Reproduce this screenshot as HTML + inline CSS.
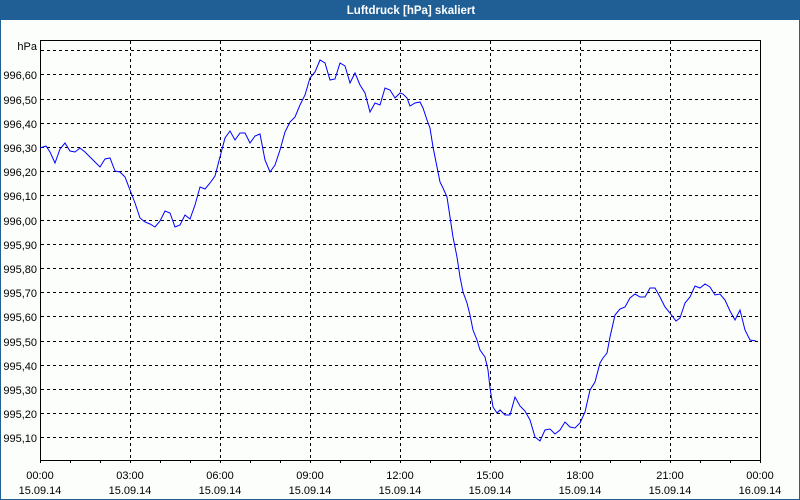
<!DOCTYPE html>
<html>
<head>
<meta charset="utf-8">
<style>
html,body{margin:0;padding:0;background:#fcfefc;}
body{width:800px;height:500px;overflow:hidden;}
svg{display:block;}
text{font-family:"Liberation Sans",sans-serif;}
</style>
</head>
<body>
<svg width="800" height="500" viewBox="0 0 800 500" xmlns="http://www.w3.org/2000/svg">
  <rect x="0" y="0" width="800" height="500" fill="#fcfefc"/>
  <!-- title bar -->
  <rect x="0" y="0" width="800" height="20" fill="#1f5f96"/>
  <text x="411" y="14" font-size="11.5" font-weight="bold" fill="#ffffff" text-anchor="middle">Luftdruck [hPa] skaliert</text>
  <!-- outer frame -->
  <rect x="0.5" y="0.5" width="799" height="499" fill="none" stroke="#1f5f96" stroke-width="1"/>

  <!-- horizontal grid -->
  <g stroke="#000" stroke-width="1" stroke-dasharray="3,3" shape-rendering="crispEdges">
    <line x1="41" x2="760" y1="50.5" y2="50.5"/>
    <line x1="41" x2="760" y1="74.5" y2="74.5"/>
    <line x1="41" x2="760" y1="99.5" y2="99.5"/>
    <line x1="41" x2="760" y1="123.5" y2="123.5"/>
    <line x1="41" x2="760" y1="147.5" y2="147.5"/>
    <line x1="41" x2="760" y1="171.5" y2="171.5"/>
    <line x1="41" x2="760" y1="195.5" y2="195.5"/>
    <line x1="41" x2="760" y1="220.5" y2="220.5"/>
    <line x1="41" x2="760" y1="244.5" y2="244.5"/>
    <line x1="41" x2="760" y1="268.5" y2="268.5"/>
    <line x1="41" x2="760" y1="292.5" y2="292.5"/>
    <line x1="41" x2="760" y1="316.5" y2="316.5"/>
    <line x1="41" x2="760" y1="341.5" y2="341.5"/>
    <line x1="41" x2="760" y1="365.5" y2="365.5"/>
    <line x1="41" x2="760" y1="389.5" y2="389.5"/>
    <line x1="41" x2="760" y1="413.5" y2="413.5"/>
    <line x1="41" x2="760" y1="437.5" y2="437.5"/>
  </g>
  <!-- vertical grid -->
  <g stroke="#000" stroke-width="1" stroke-dasharray="3,3" shape-rendering="crispEdges">
    <line x1="130.5" x2="130.5" y1="41" y2="460"/>
    <line x1="220.5" x2="220.5" y1="41" y2="460"/>
    <line x1="310.5" x2="310.5" y1="41" y2="460"/>
    <line x1="400.5" x2="400.5" y1="41" y2="460"/>
    <line x1="490.5" x2="490.5" y1="41" y2="460"/>
    <line x1="580.5" x2="580.5" y1="41" y2="460"/>
    <line x1="670.5" x2="670.5" y1="41" y2="460"/>
  </g>

  <!-- axis box -->
  <rect x="40.5" y="40.5" width="720" height="420" fill="none" stroke="#000" stroke-width="1" shape-rendering="crispEdges"/>
  <!-- ticks -->
  <g stroke="#000" stroke-width="1" shape-rendering="crispEdges">
    <line x1="40.5" x2="40.5" y1="461" y2="463"/>
    <line x1="70.5" x2="70.5" y1="461" y2="463"/>
    <line x1="100.5" x2="100.5" y1="461" y2="463"/>
    <line x1="130.5" x2="130.5" y1="461" y2="463"/>
    <line x1="160.5" x2="160.5" y1="461" y2="463"/>
    <line x1="190.5" x2="190.5" y1="461" y2="463"/>
    <line x1="220.5" x2="220.5" y1="461" y2="463"/>
    <line x1="250.5" x2="250.5" y1="461" y2="463"/>
    <line x1="280.5" x2="280.5" y1="461" y2="463"/>
    <line x1="310.5" x2="310.5" y1="461" y2="463"/>
    <line x1="340.5" x2="340.5" y1="461" y2="463"/>
    <line x1="370.5" x2="370.5" y1="461" y2="463"/>
    <line x1="400.5" x2="400.5" y1="461" y2="463"/>
    <line x1="430.5" x2="430.5" y1="461" y2="463"/>
    <line x1="460.5" x2="460.5" y1="461" y2="463"/>
    <line x1="490.5" x2="490.5" y1="461" y2="463"/>
    <line x1="520.5" x2="520.5" y1="461" y2="463"/>
    <line x1="550.5" x2="550.5" y1="461" y2="463"/>
    <line x1="580.5" x2="580.5" y1="461" y2="463"/>
    <line x1="610.5" x2="610.5" y1="461" y2="463"/>
    <line x1="640.5" x2="640.5" y1="461" y2="463"/>
    <line x1="670.5" x2="670.5" y1="461" y2="463"/>
    <line x1="700.5" x2="700.5" y1="461" y2="463"/>
    <line x1="730.5" x2="730.5" y1="461" y2="463"/>
    <line x1="760.5" x2="760.5" y1="461" y2="463"/>
  </g>

  <!-- y labels -->
  <g font-size="11" fill="#000" text-anchor="end">
    <text x="37" y="50">hPa</text>
    <text x="37" y="79">996,60</text>
    <text x="37" y="104">996,50</text>
    <text x="37" y="128">996,40</text>
    <text x="37" y="152">996,30</text>
    <text x="37" y="176">996,20</text>
    <text x="37" y="200">996,10</text>
    <text x="37" y="225">996,00</text>
    <text x="37" y="249">995,90</text>
    <text x="37" y="273">995,80</text>
    <text x="37" y="297">995,70</text>
    <text x="37" y="321">995,60</text>
    <text x="37" y="346">995,50</text>
    <text x="37" y="370">995,40</text>
    <text x="37" y="394">995,30</text>
    <text x="37" y="418">995,20</text>
    <text x="37" y="442">995,10</text>
  </g>

  <!-- x labels -->
  <g font-size="11" fill="#000" text-anchor="middle">
    <text x="40" y="479">00:00</text><text x="40" y="494">15.09.14</text>
    <text x="130" y="479">03:00</text><text x="130" y="494">15.09.14</text>
    <text x="220" y="479">06:00</text><text x="220" y="494">15.09.14</text>
    <text x="310" y="479">09:00</text><text x="310" y="494">15.09.14</text>
    <text x="400" y="479">12:00</text><text x="400" y="494">15.09.14</text>
    <text x="490" y="479">15:00</text><text x="490" y="494">15.09.14</text>
    <text x="580" y="479">18:00</text><text x="580" y="494">15.09.14</text>
    <text x="670" y="479">21:00</text><text x="670" y="494">15.09.14</text>
    <text x="760" y="479">00:00</text><text x="760" y="494">16.09.14</text>
  </g>

  <!-- data series -->
  <polyline fill="none" stroke="#0000ff" stroke-width="1" points="
40,148 46,146 50,152 55,163 60,149 65,143 70,151 75,152 80,148 85,152 90,157 95,162 100,167 105,159 110,158 115,171 120,172 125,177 130,190 135,203 140,218 145,222 150,224 155,227 160,221 165,211 170,213 175,227 180,225 185,215 190,219 195,205 200,187 205,189 210,183 215,176 220,157 225,138 230,131 235,140 240,133 245,133 250,143 255,136 260,134 265,160 270,172 275,165 280,150 285,132 290,122 295,117 300,105 305,95 310,78 315,72 320,60 325,63 330,80 335,79 340,63 345,66 350,83 355,73 360,85 365,93 370,112 375,103 380,105 385,88 390,90 395,98 400,93 403,94 407,98 410,106 415,103 420,102 423,108 427,120 430,128 433,147 437,167 440,182 443,188 447,197 450,217 453,237 457,257 460,277 463,292 467,303 470,315 473,330 477,340 480,350 485,357 488,370 490,388 493,407 497,413 500,410 505,415 510,415 515,397 520,406 525,411 530,420 535,437 540,441 545,430 550,429 555,434 560,430 565,422 570,427 575,428 580,423 585,412 590,390 595,382 600,363 603,358 607,353 610,337 615,315 620,309 625,307 630,298 635,294 640,297 645,297 650,288 655,288 660,297 665,307 670,313 676,321 680,318 685,303 690,297 695,286 700,288 705,284 710,287 715,295 720,294 725,300 730,311 735,320 740,310 745,330 750,340 756,341"/>
</svg>
</body>
</html>
